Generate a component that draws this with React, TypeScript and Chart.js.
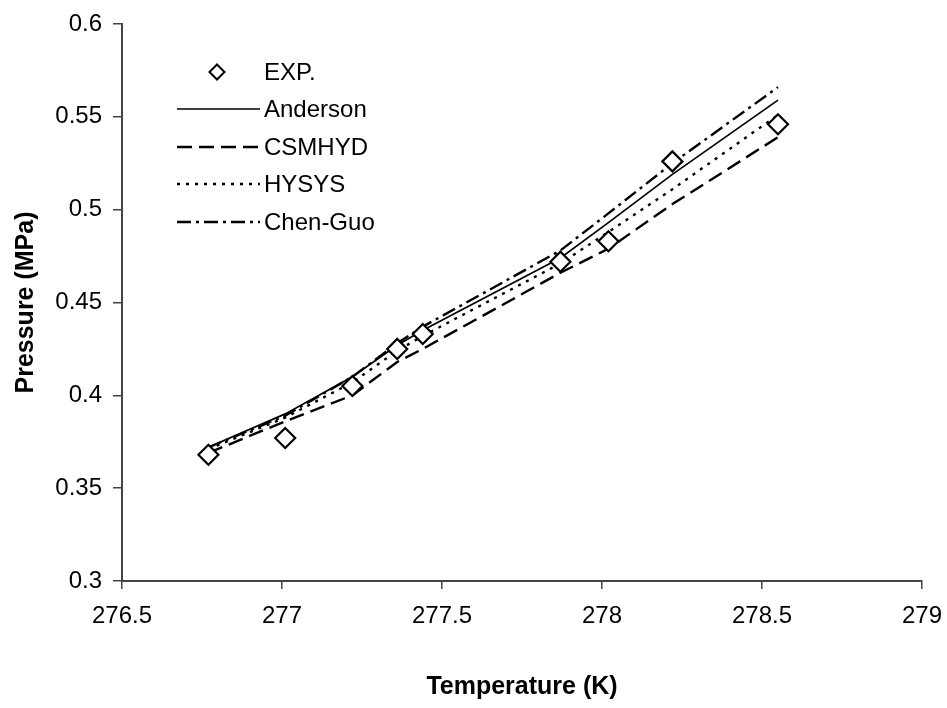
import React, { useEffect, useRef } from 'react';
import { Chart, registerables } from 'chart.js';

Chart.register(...registerables);

const temperatures = [276.77, 277.01, 277.22, 277.36, 277.44, 277.87, 278.02, 278.22, 278.55];
const expPressure = [0.368, 0.377, 0.405, 0.425, 0.433, 0.472, 0.483, 0.526, 0.546];
const andersonPressure = [0.372, 0.390, 0.410, 0.427, 0.435, 0.474, 0.493, 0.519, 0.559];
const csmhydPressure = [0.369, 0.386, 0.400, 0.418, 0.425, 0.466, 0.479, 0.503, 0.539];
const hysysPressure = [0.371, 0.388, 0.407, 0.424, 0.432, 0.471, 0.488, 0.511, 0.551];
const chenGuoPressure = [0.372, 0.389, 0.410, 0.428, 0.437, 0.478, 0.498, 0.525, 0.566];

const seriesNames = ['EXP.', 'Anderson', 'CSMHYD', 'HYSYS', 'Chen-Guo'];
const xTicks = [276.5, 277, 277.5, 278, 278.5, 279];
const yTicks = [0.3, 0.35, 0.4, 0.45, 0.5, 0.55, 0.6];

const FONT = "'Liberation Sans', Arial, sans-serif";
const dashes: number[][] = [[], [], [15, 7], [3, 6], [14, 5, 3, 5]];
const widths = [2, 1.7, 2.4, 2.4, 2.4];

const toPts = (ys: number[]) => temperatures.map((t, i) => ({ x: t, y: ys[i] }));

const legendPlugin = {
  id: 'customLegend',
  afterDraw(chart: any) {
    const ctx = chart.ctx;
    ctx.save();
    const rowY = [72, 109, 147, 184, 222];
    const lineX0 = 177;
    const lineX1 = 260;
    const textX = 264;
    ctx.font = `24px ${FONT}`;
    ctx.fillStyle = '#000';
    ctx.textBaseline = 'middle';
    ctx.textAlign = 'left';
    seriesNames.forEach((name, i) => {
      const y = rowY[i];
      ctx.strokeStyle = '#000';
      if (i === 0) {
        const cx = 217;
        const r = 7.5;
        ctx.setLineDash([]);
        ctx.lineWidth = 2;
        ctx.beginPath();
        ctx.moveTo(cx, y - r);
        ctx.lineTo(cx + r, y);
        ctx.lineTo(cx, y + r);
        ctx.lineTo(cx - r, y);
        ctx.closePath();
        ctx.fillStyle = '#fff';
        ctx.fill();
        ctx.stroke();
        ctx.fillStyle = '#000';
      } else {
        ctx.setLineDash(dashes[i]);
        ctx.lineWidth = widths[i];
        ctx.beginPath();
        ctx.moveTo(lineX0, y);
        ctx.lineTo(lineX1, y);
        ctx.stroke();
      }
      ctx.setLineDash([]);
      ctx.fillText(name, textX, y + 1);
    });
    ctx.restore();
  },
};

export default function App() {
  const canvasRef = useRef<HTMLCanvasElement | null>(null);

  useEffect(() => {
    if (!canvasRef.current) return;
    const lineSeries = [andersonPressure, csmhydPressure, hysysPressure, chenGuoPressure];
    const datasets: any[] = lineSeries.map((s, k) => ({
      type: 'line',
      label: seriesNames[k + 1],
      data: toPts(s),
      borderColor: '#000',
      borderWidth: widths[k + 1],
      borderDash: dashes[k + 1],
      pointRadius: 0,
      fill: false,
      tension: 0,
      order: 2,
    }));
    datasets.push({
      type: 'scatter',
      label: seriesNames[0],
      data: toPts(expPressure),
      pointStyle: 'rectRot',
      pointRadius: 10,
      pointBorderWidth: 2.2,
      pointBackgroundColor: '#fff',
      pointBorderColor: '#000',
      showLine: false,
      order: 1,
    });

    const axisColor = '#444';
    const chart = new Chart(canvasRef.current, {
      type: 'scatter',
      data: { datasets },
      plugins: [legendPlugin],
      options: {
        animation: false,
        responsive: false,
        maintainAspectRatio: false,
        layout: { padding: { top: 24, right: 25, left: 0, bottom: 0 } },
        plugins: { legend: { display: false }, tooltip: { enabled: false } },
        scales: {
          x: {
            type: 'linear',
            min: xTicks[0],
            max: xTicks[xTicks.length - 1],
            afterBuildTicks: (scale: any) => {
              scale.ticks = xTicks.map((v) => ({ value: v }));
            },
            afterFit: (scale: any) => {
              scale.height = 127;
              scale.paddingLeft = 0;
              scale.paddingRight = 0;
            },
            ticks: {
              color: '#000',
              font: { family: FONT, size: 24 },
              padding: 13,
              maxRotation: 0,
              callback: (v: any) => String(v),
            },
            grid: { drawOnChartArea: false, drawTicks: true, tickLength: 8, color: axisColor, lineWidth: 1.5 },
            border: { display: true, color: axisColor, width: 2 },
            title: {
              display: true,
              text: 'Temperature (K)',
              color: '#000',
              font: { family: FONT, size: 25, weight: 'bold' },
              padding: { top: 0, bottom: 6 },
            },
          },
          y: {
            type: 'linear',
            min: yTicks[0],
            max: yTicks[yTicks.length - 1],
            afterBuildTicks: (scale: any) => {
              scale.ticks = yTicks.map((v) => ({ value: v }));
            },
            afterFit: (scale: any) => {
              scale.width = 122;
              scale.paddingTop = 0;
              scale.paddingBottom = 0;
            },
            ticks: {
              color: '#000',
              font: { family: FONT, size: 24 },
              padding: 11,
              callback: (v: any) => String(v),
            },
            grid: { drawOnChartArea: false, drawTicks: true, tickLength: 9, color: axisColor, lineWidth: 1.5 },
            border: { display: true, color: axisColor, width: 2 },
            title: {
              display: true,
              text: 'Pressure (MPa)',
              color: '#000',
              font: { family: FONT, size: 25, weight: 'bold' },
              padding: { top: 11, bottom: 0 },
            },
          },
        },
      },
    } as any);
    return () => chart.destroy();
  }, []);

  return (
    <div style={{ position: 'fixed', left: 0, top: 0, width: 947, height: 708, background: '#fff' }}>
      <canvas ref={canvasRef} width={947} height={708} style={{ width: 947, height: 708, display: 'block' }} />
    </div>
  );
}
